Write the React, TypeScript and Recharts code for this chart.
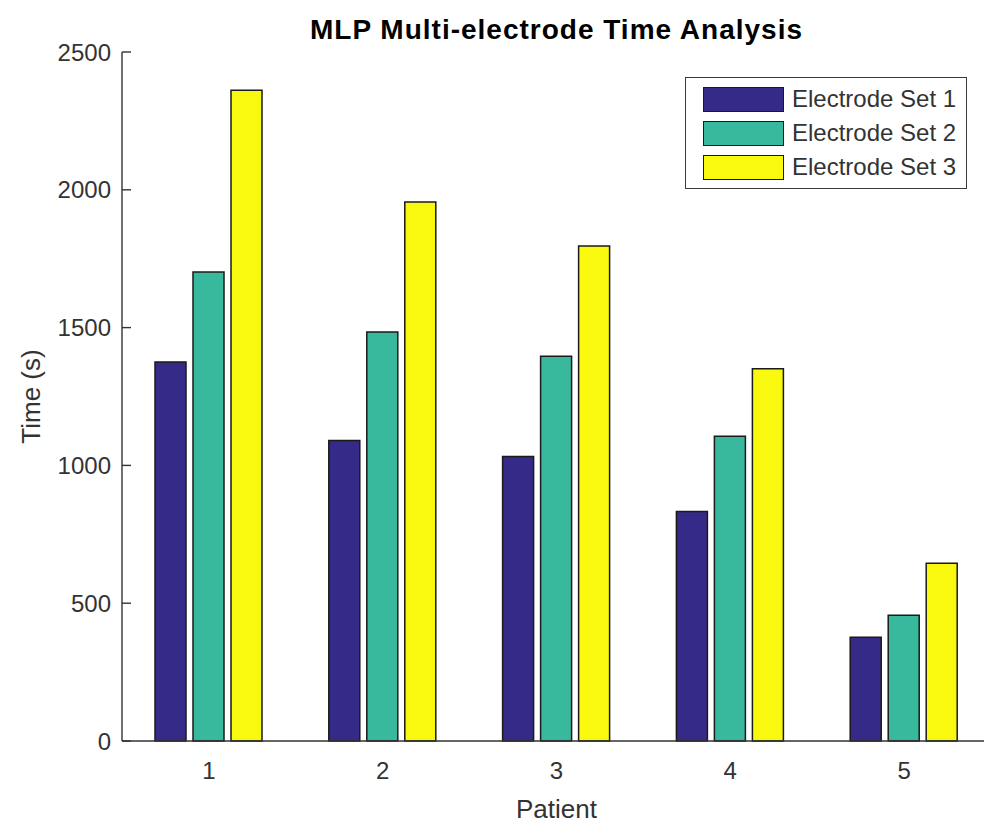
import React from 'react';
import { BarChart, Bar, XAxis, YAxis, Legend, Label } from 'recharts';

const patients = ['1', '2', '3', '4', '5'];
const set1 = [1375, 1090, 1032, 833, 376];
const set2 = [1702, 1484, 1396, 1106, 456];
const set3 = [2361, 1956, 1796, 1351, 645];
const yTicks = [0, 500, 1000, 1500, 2000, 2500];

const seriesNames = ['Electrode Set 1', 'Electrode Set 2', 'Electrode Set 3'];
const colors = ['#352a87', '#38b99e', '#f8f90f'];

const data = patients.map((p, i) => ({ patient: p, s1: set1[i], s2: set2[i], s3: set3[i] }));

const FONT = '"Liberation Sans", Arial, Helvetica, sans-serif';
const INK = '#333333';

// legend drawn as a boxed list, like the MATLAB one
const LegendBox = (props: any) => {
  const items = props.payload || [];
  return (
    <div
      style={{
        border: '1.5px solid #3a3a3a',
        background: '#fff',
        width: 282,
        boxSizing: 'border-box',
        padding: '4px 0 4px 17px',
        fontFamily: FONT,
      }}
    >
      {items.map((it: any) => (
        <div key={it.value} style={{ display: 'flex', alignItems: 'center', height: 34 }}>
          <span
            style={{
              display: 'inline-block',
              width: 79,
              height: 23,
              background: it.color,
              border: '1.5px solid #1a1a1a',
            }}
          />
          <span style={{ marginLeft: 8, fontSize: 24, color: INK, lineHeight: '24px' }}>{it.value}</span>
        </div>
      ))}
    </div>
  );
};

export default function App() {
  return (
    <div
      style={{
        position: 'fixed',
        left: 0,
        top: 0,
        width: 984,
        height: 823,
        overflow: 'hidden',
        background: '#fff',
        fontFamily: FONT,
      }}
    >
      <div
        style={{
          position: 'absolute',
          left: 122,
          width: 869,
          top: 16,
          textAlign: 'center',
          fontWeight: 'bold',
          fontSize: 28,
          lineHeight: '28px',
          letterSpacing: 1,
          color: '#000',
        }}
      >
        MLP Multi-electrode Time Analysis
      </div>
      <BarChart
        width={1010}
        height={823}
        data={data}
        margin={{ top: 52, right: 19, bottom: 0, left: 0 }}
        barSize={31}
        barGap={7}
        style={{ fontFamily: FONT }}
      >
        <XAxis
          dataKey="patient"
          height={82}
          tickLine={false}
          tickMargin={15}
          axisLine={{ stroke: '#333', strokeWidth: 1.4 }}
          tick={{ fontSize: 24, fill: INK }}
        >
          <Label
            content={({ viewBox }: any) => (
              <text
                x={viewBox.x + viewBox.width / 2}
                y={viewBox.y + 77}
                textAnchor="middle"
                fontSize={26}
                fill={INK}
                fontFamily={FONT}
              >
                Patient
              </text>
            )}
          />
        </XAxis>
        <YAxis
          width={122}
          domain={[0, 2500]}
          ticks={yTicks}
          interval={0}
          tickSize={-9}
          tickMargin={20}
          axisLine={{ stroke: '#333', strokeWidth: 1.4 }}
          tickLine={{ stroke: '#333', strokeWidth: 1.4 }}
          tick={{ fontSize: 24, fill: INK }}
        >
          <Label
            content={({ viewBox }: any) => {
              const x = viewBox.x + 40;
              const y = viewBox.y + viewBox.height / 2;
              return (
                <text
                  x={x}
                  y={y}
                  transform={`rotate(-90, ${x}, ${y})`}
                  textAnchor="middle"
                  fontSize={26}
                  fill={INK}
                  fontFamily={FONT}
                >
                  Time (s)
                </text>
              );
            }}
          />
        </YAxis>
        <Legend
          layout="vertical"
          align="center"
          verticalAlign="middle"
          wrapperStyle={{ left: 685, top: 77 }}
          content={LegendBox}
        />
        <Bar dataKey="s1" name={seriesNames[0]} fill={colors[0]} stroke="#1a1a1a" strokeWidth={1.5} isAnimationActive={false} />
        <Bar dataKey="s2" name={seriesNames[1]} fill={colors[1]} stroke="#1a1a1a" strokeWidth={1.5} isAnimationActive={false} />
        <Bar dataKey="s3" name={seriesNames[2]} fill={colors[2]} stroke="#1a1a1a" strokeWidth={1.5} isAnimationActive={false} />
      </BarChart>
    </div>
  );
}
